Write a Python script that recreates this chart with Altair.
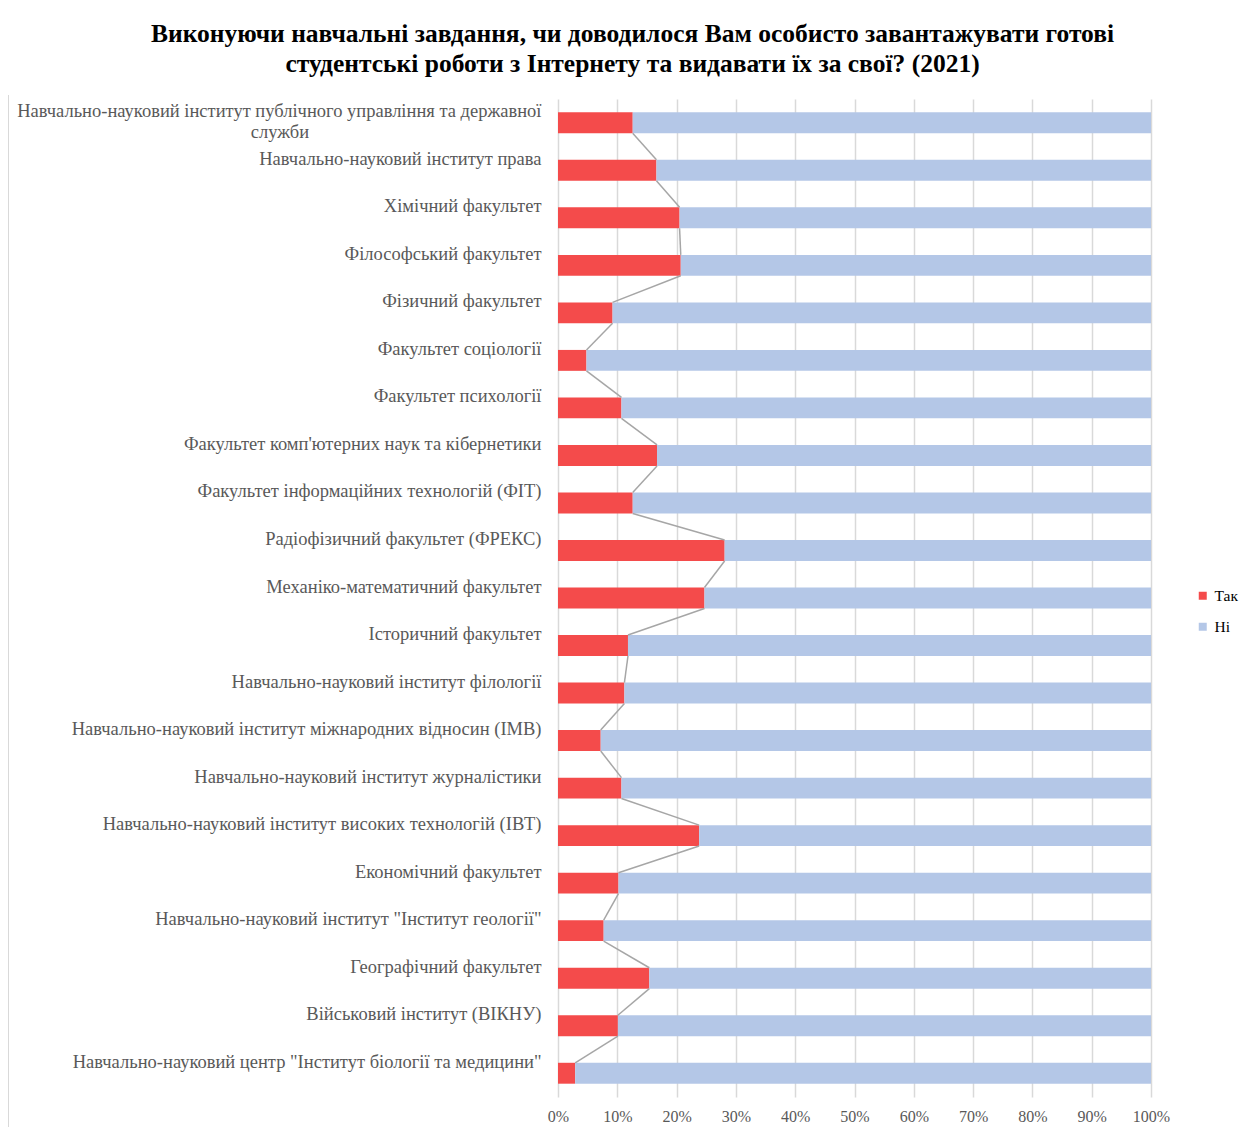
import json
import altair as alt
import pandas as pd

categories = [
    "Навчально-науковий інститут публічного управління та державної служби",
    "Навчально-науковий інститут права",
    "Хімічний факультет",
    "Філософський факультет",
    "Фізичний факультет",
    "Факультет соціології",
    "Факультет психології",
    "Факультет комп'ютерних наук та кібернетики",
    "Факультет інформаційних технологій (ФІТ)",
    "Радіофізичний факультет (ФРЕКС)",
    "Механіко-математичний факультет",
    "Історичний факультет",
    "Навчально-науковий інститут філології",
    "Навчально-науковий інститут міжнародних відносин (ІМВ)",
    "Навчально-науковий інститут журналістики",
    "Навчально-науковий інститут високих технологій (ІВТ)",
    "Економічний факультет",
    "Навчально-науковий інститут \"Інститут  геології\"",
    "Географічний факультет",
    "Військовий інститут  (ВІКНУ)",
    "Навчально-науковий центр \"Інститут  біології та медицини\"",
]
first_label_lines = ["Навчально-науковий інститут публічного управління та державної", "служби"]
tak = [12.6, 16.6, 20.5, 20.7, 9.2, 4.8, 10.7, 16.7, 12.6, 28.1, 24.7,
       11.8, 11.2, 7.2, 10.7, 23.8, 10.2, 7.7, 15.4, 10.1, 2.9]
ni = [round(100 - t, 1) for t in tak]
series = ["Так", "Ні"]
colors = ["#F44B4B", "#B4C7E7"]
x_ticks = list(range(0, 101, 10))

HALF = 0.22  # half bar thickness, in band units

rows = []
for i, c in enumerate(categories):
    rows.append({"idx": i, "cat": c, "series": "Так", "start": 0, "end": tak[i],
                 "y0": i - HALF, "y1": i + HALF, "ord": 0})
    rows.append({"idx": i, "cat": c, "series": "Ні", "start": tak[i], "end": tak[i] + ni[i],
                 "y0": i - HALF, "y1": i + HALF, "ord": 1})
bars_df = pd.DataFrame(rows)

lines = []
for i in range(len(categories) - 1):
    lines.append({"xa": tak[i], "xb": tak[i + 1], "ya": i + HALF, "yb": i + 1 - HALF})
lines_df = pd.DataFrame(lines)

label_items = [first_label_lines[0]] + categories[1:]
label_expr = json.dumps(label_items, ensure_ascii=False) + "[datum.value]"

FONT = "Liberation Serif"
LABEL_SIZE = 18.5
W, H = 593, 998

yscale = alt.Scale(domain=[-0.5, len(categories) - 0.5], reverse=True, nice=False, zero=False)
xscale = alt.Scale(domain=[0, 100], nice=False)

bars = alt.Chart(bars_df).mark_bar().encode(
    x=alt.X("start:Q", scale=xscale,
            axis=alt.Axis(values=x_ticks, labelExpr="datum.value + '%'", grid=True,
                          gridColor="#D9D9D9", gridWidth=1.5, domain=False, ticks=False,
                          labelPadding=11, labelFontSize=16, labelFont=FONT,
                          labelColor="#595959", labelFlush=False, title=None)),
    x2="end:Q",
    y=alt.Y("y0:Q", scale=yscale,
            axis=alt.Axis(values=list(range(len(categories))), labelExpr=label_expr,
                          grid=False, ticks=False, domain=False, labelPadding=17,
                          labelFontSize=LABEL_SIZE, labelFont=FONT, labelColor="#595959",
                          labelBaseline="top", labelOffset=-21, labelLineHeight=21,
                          labelLimit=700, labelOverlap=False, title=None)),
    y2="y1:Q",
    color=alt.Color("series:N", scale=alt.Scale(domain=series, range=colors),
                    legend=alt.Legend(title=None, orient="none", legendX=637, legendY=489,
                                      symbolType="square", symbolSize=64,
                                      symbolStrokeWidth=0, labelFontSize=15.5,
                                      labelFont=FONT, labelColor="#000000",
                                      rowPadding=14)),
    order=alt.Order("ord:Q"),
)

connectors = alt.Chart(lines_df).mark_rule(color="#A6A6A6", strokeWidth=1.5).encode(
    x="xa:Q", x2="xb:Q", y="ya:Q", y2="yb:Q"
)

second_line = alt.Chart(pd.DataFrame({"idx": [0], "t": [first_label_lines[1]]})).mark_text(
    font=FONT, fontSize=LABEL_SIZE, color="#595959", align="center", baseline="top"
).encode(x=alt.value(-278), y=alt.Y("idx:Q", scale=yscale), text="t:N")

border = alt.Chart(pd.DataFrame({"k": [0]})).mark_rule(color="#D9D9D9", strokeWidth=2).encode(
    x=alt.value(-550), y=alt.value(-4), y2=alt.value(1030)
)

chart = alt.layer(bars, connectors, second_line, border).properties(
    width=W, height=H,
    autosize=alt.AutoSizeParams(type="none"),
    padding={"left": 550, "top": 91, "right": 93, "bottom": 30},
    title=alt.TitleParams(
        text=["Виконуючи навчальні завдання, чи доводилося Вам особисто завантажувати  готові",
              "студентські роботи з Інтернету та видавати їх за свої? (2021)"],
        font=FONT, fontSize=25.5, fontWeight="bold", color="#000000",
        anchor="middle", dx=-222, offset=17, lineHeight=30,
    ),
).configure_view(stroke=None)

chart.save("out.html", embed_options={"renderer": "svg", "actions": False})
